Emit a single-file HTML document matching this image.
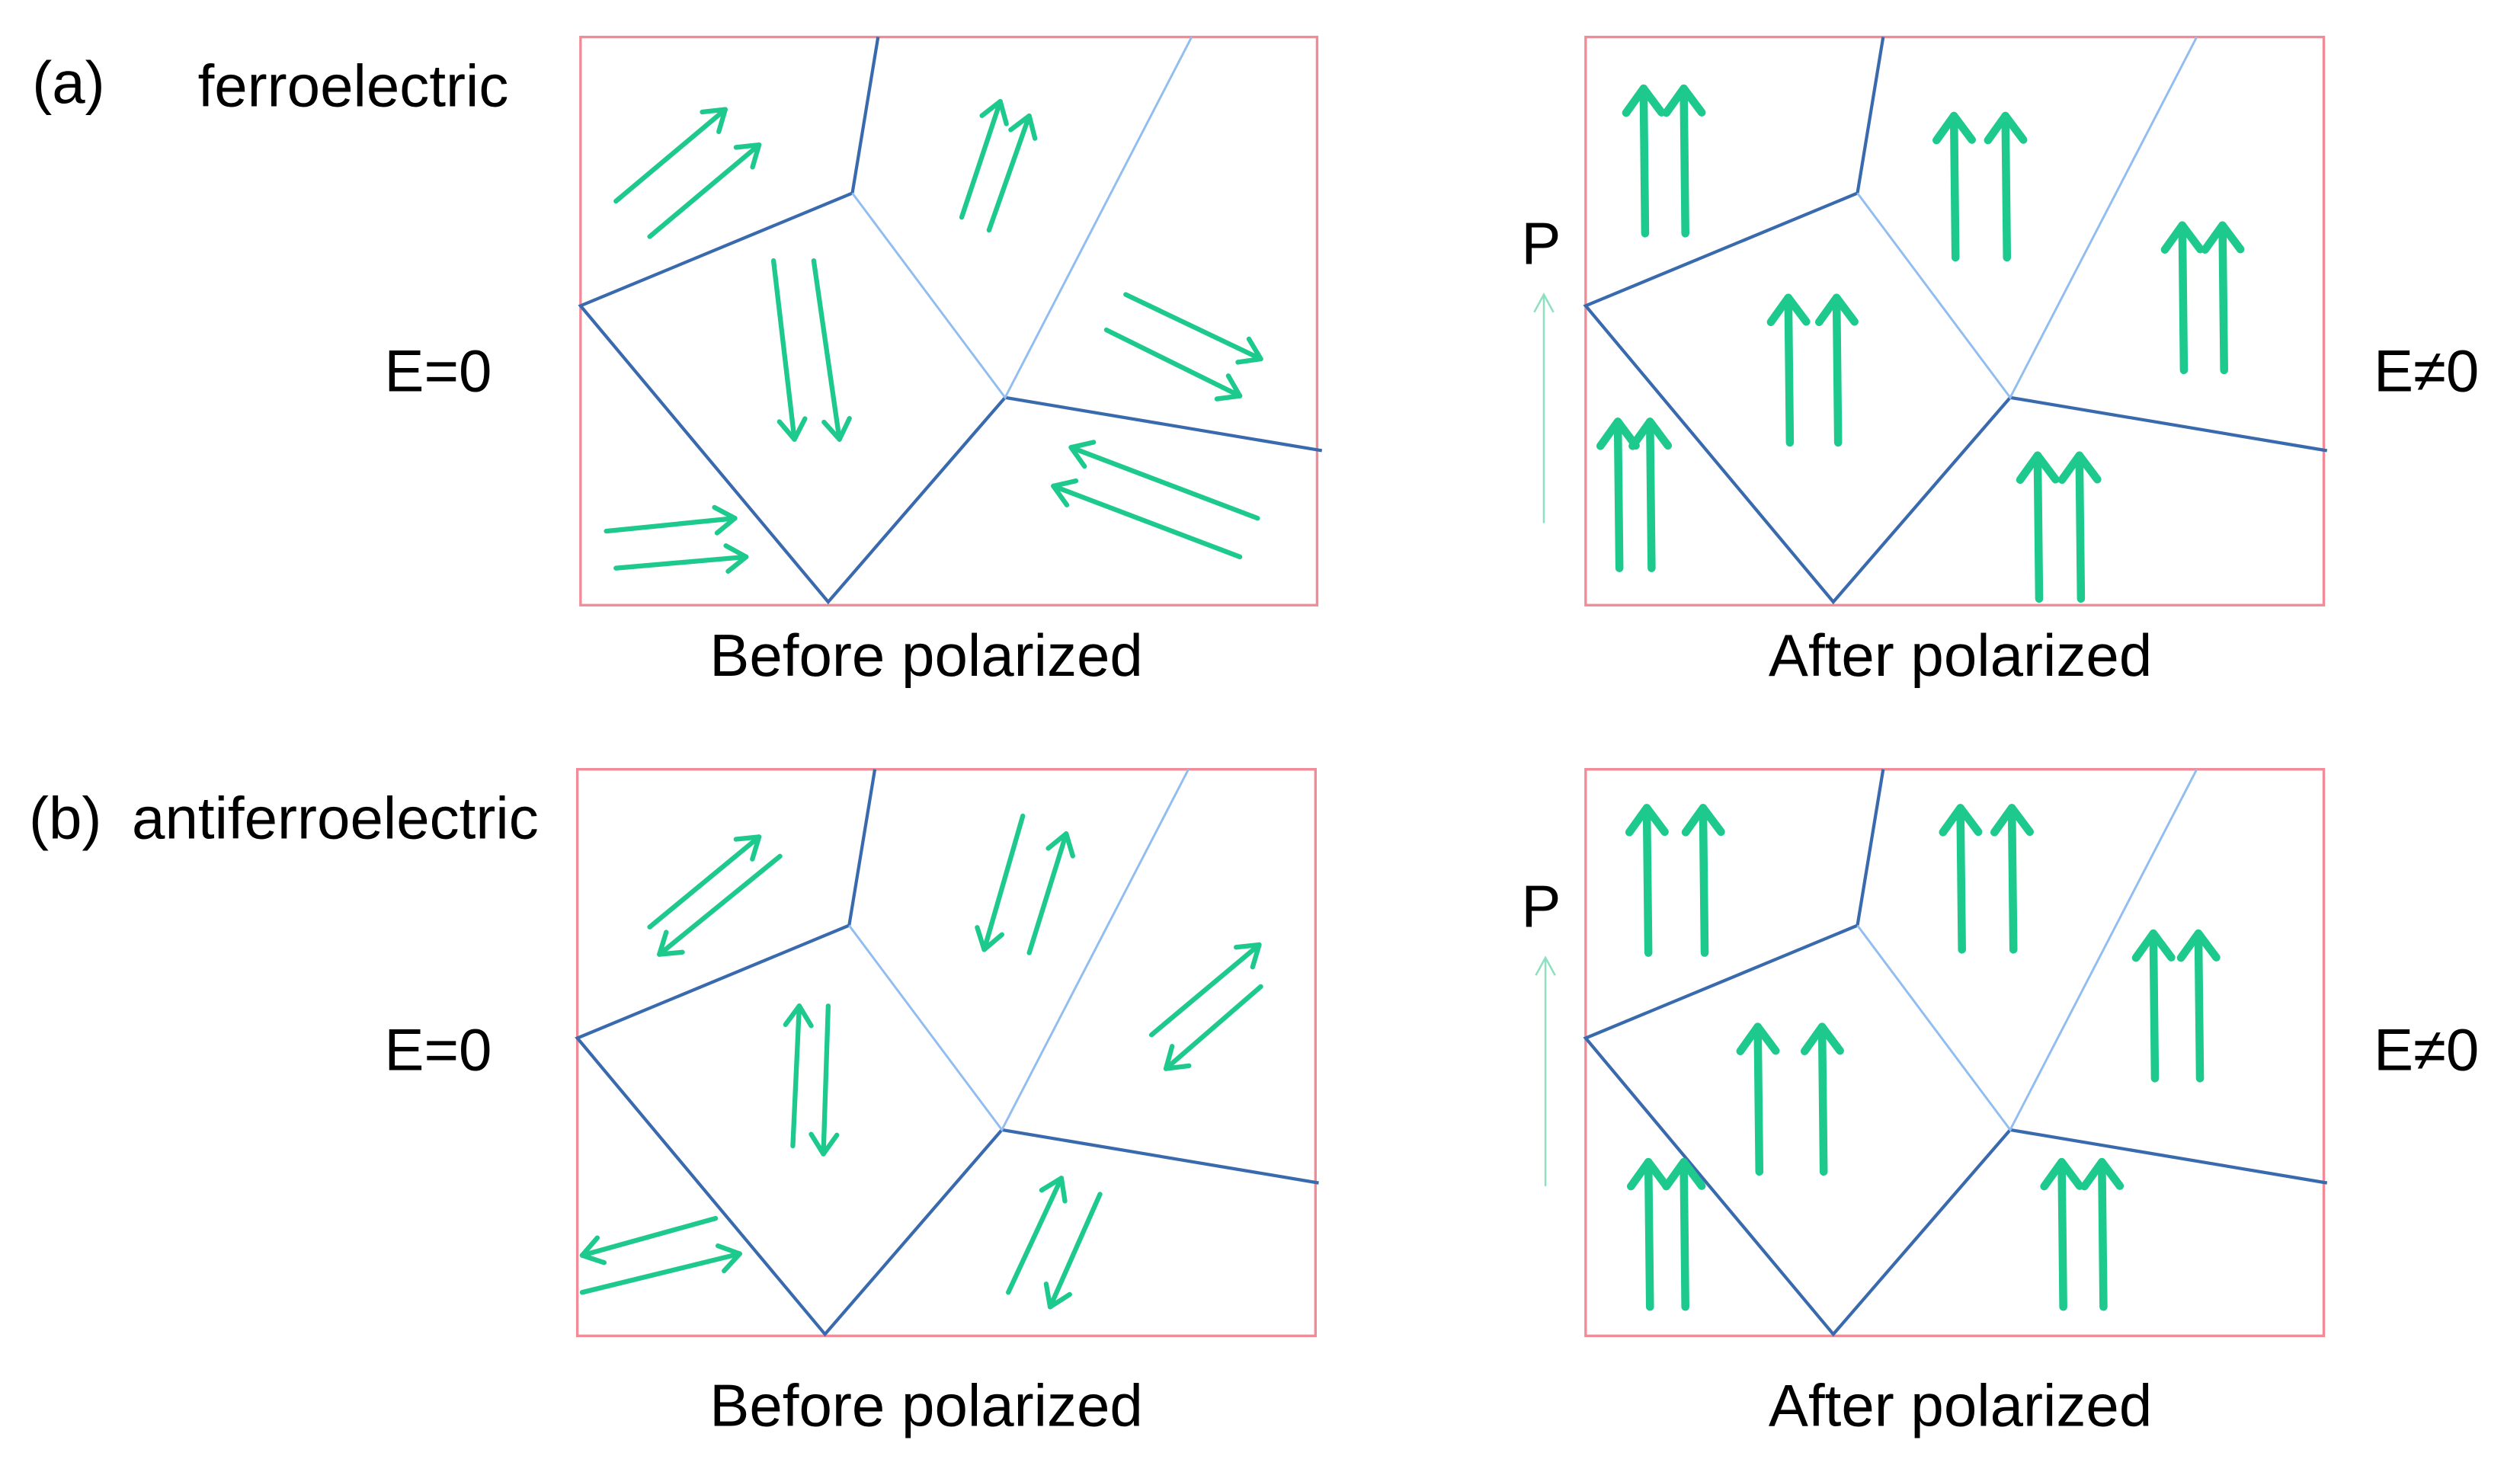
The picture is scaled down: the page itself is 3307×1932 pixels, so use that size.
<!DOCTYPE html>
<html><head><meta charset="utf-8"><style>
html,body{margin:0;padding:0;background:#fff;}
svg{display:block;}
text{font-family:"Liberation Sans",Arial,sans-serif;fill:#000;}
</style></head><body>
<svg width="3307" height="1932" viewBox="0 0 1567 914.6" preserveAspectRatio="none" xmlns="http://www.w3.org/2000/svg">
<defs>
<marker id="h" markerUnits="userSpaceOnUse" markerWidth="30" markerHeight="30" refX="15" refY="15" orient="auto" viewBox="0 0 30 30">
<polyline points="3,7 15,15 3,23" fill="none" stroke="#1ec98d" stroke-width="3" stroke-linecap="round" stroke-linejoin="round"/>
</marker>
<marker id="H" markerUnits="userSpaceOnUse" markerWidth="40" markerHeight="40" refX="20" refY="20" orient="auto" viewBox="0 0 40 40">
<polyline points="5,9 20,20 5,31" fill="none" stroke="#1ec98d" stroke-width="5" stroke-linecap="round" stroke-linejoin="round"/>
</marker>
<marker id="p" markerUnits="userSpaceOnUse" markerWidth="30" markerHeight="30" refX="15" refY="15" orient="auto" viewBox="0 0 30 30">
<polyline points="4,9 15,15 4,21" fill="none" stroke="#8fe0c0" stroke-width="1.2"/>
</marker>
<g id="grainA">
<polyline points="546,23 530,120 361,190 515,374 625,247 822,280" fill="none" stroke="#3a6aae" stroke-width="2"/>
<polyline points="530,120 625,247 741,23" fill="none" stroke="#92bdf0" stroke-width="1.4"/>
</g>
</defs>
<g font-size="37">
<text x="20" y="64">(a)</text>
<text x="123" y="66">ferroelectric</text>
<text x="239" y="243">E=0</text>
<text x="576" y="420" text-anchor="middle">Before polarized</text>
<text x="1219" y="420" text-anchor="middle">After polarized</text>
<text x="946" y="164">P</text>
<text x="1476" y="243">E≠0</text>
<text x="18" y="521">(b)</text>
<text x="82" y="521">antiferroelectric</text>
<text x="239" y="665">E=0</text>
<text x="576" y="886" text-anchor="middle">Before polarized</text>
<text x="1219" y="886" text-anchor="middle">After polarized</text>
<text x="946" y="576">P</text>
<text x="1476" y="665">E≠0</text>
</g>
<g fill="none" stroke="#f28b98" stroke-width="1.6">
<rect x="361" y="23" width="458" height="353"/>
<rect x="986" y="23" width="459" height="353"/>
<rect x="359" y="478" width="459" height="352"/>
<rect x="986" y="478" width="459" height="352"/>
</g>
<use href="#grainA"/>
<use href="#grainA" transform="translate(625,0)"/>
<use href="#grainA" transform="translate(-2,455)"/>
<use href="#grainA" transform="translate(625,455)"/>
<g stroke="#8fe0c0" stroke-width="1.2" fill="none">
<line x1="960" y1="325" x2="960" y2="183" marker-end="url(#p)"/>
<line x1="961" y1="737" x2="961" y2="595" marker-end="url(#p)"/>
</g>
<g stroke="#1ec98d" stroke-width="3" fill="none" stroke-linecap="round" marker-end="url(#h)">
<line x1="383" y1="125" x2="451" y2="68"/>
<line x1="404" y1="147" x2="472" y2="90"/>
<line x1="598" y1="135" x2="622" y2="63"/>
<line x1="615" y1="143" x2="640" y2="72"/>
<line x1="481" y1="162" x2="494" y2="273"/>
<line x1="506" y1="162" x2="522" y2="273"/>
<line x1="700" y1="183" x2="784" y2="223"/>
<line x1="688" y1="205" x2="771" y2="246"/>
<line x1="782" y1="322" x2="666" y2="278"/>
<line x1="771" y1="346" x2="655" y2="302"/>
<line x1="377" y1="330" x2="457" y2="322"/>
<line x1="383" y1="353" x2="464" y2="346"/>
<line x1="404" y1="576" x2="472" y2="520"/>
<line x1="485" y1="532" x2="410" y2="593"/>
<line x1="636" y1="507" x2="612" y2="590"/>
<line x1="640" y1="592" x2="663" y2="518"/>
<line x1="493" y1="712" x2="497" y2="625"/>
<line x1="515" y1="625" x2="512" y2="717"/>
<line x1="716" y1="643" x2="783" y2="587"/>
<line x1="784" y1="613" x2="725" y2="664"/>
<line x1="445" y1="757" x2="362" y2="780"/>
<line x1="362" y1="803" x2="460" y2="779"/>
<line x1="627" y1="803" x2="660" y2="732"/>
<line x1="684" y1="742" x2="653" y2="812"/>
</g>
<g stroke="#1ec98d" stroke-width="5" fill="none" stroke-linecap="round" marker-end="url(#H)">
<line x1="1023" y1="145" x2="1022" y2="55"/>
<line x1="1048" y1="145" x2="1047" y2="55"/>
<line x1="1216" y1="160" x2="1215" y2="72"/>
<line x1="1248" y1="160" x2="1247" y2="72"/>
<line x1="1358" y1="230" x2="1357" y2="140"/>
<line x1="1383" y1="230" x2="1382" y2="140"/>
<line x1="1113" y1="275" x2="1112" y2="185"/>
<line x1="1143" y1="275" x2="1142" y2="185"/>
<line x1="1007" y1="353" x2="1006" y2="262"/>
<line x1="1027" y1="353" x2="1026" y2="262"/>
<line x1="1268" y1="372" x2="1267" y2="283"/>
<line x1="1294" y1="372" x2="1293" y2="283"/>
<line x1="1025" y1="592" x2="1024" y2="502"/>
<line x1="1060" y1="592" x2="1059" y2="502"/>
<line x1="1220" y1="590" x2="1219" y2="502"/>
<line x1="1252" y1="590" x2="1251" y2="502"/>
<line x1="1340" y1="670" x2="1339" y2="580"/>
<line x1="1368" y1="670" x2="1367" y2="580"/>
<line x1="1094" y1="728" x2="1093" y2="638"/>
<line x1="1134" y1="728" x2="1133" y2="638"/>
<line x1="1026" y1="812" x2="1025" y2="722"/>
<line x1="1048" y1="812" x2="1047" y2="722"/>
<line x1="1283" y1="812" x2="1282" y2="722"/>
<line x1="1308" y1="812" x2="1307" y2="722"/>
</g>
</svg>
</body></html>
